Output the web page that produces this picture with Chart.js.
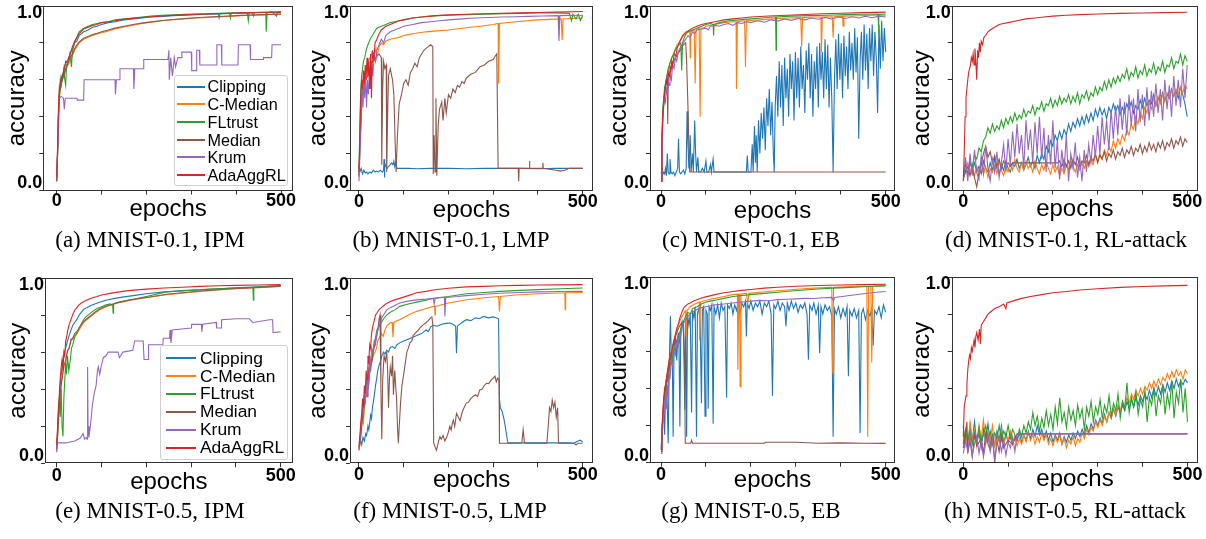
<!DOCTYPE html>
<html>
<head>
<meta charset="utf-8">
<script src="https://cdn.jsdelivr.net/npm/chart.js@4.4.0/dist/chart.umd.min.js"></script>
<style>
  body { margin: 0; background: #fff; }
  #page { position: relative; width: 1206px; height: 539px; overflow: hidden; background: #fff; }
  canvas { position: absolute; }
  .caption { position: absolute; font: 23px/23px 'Liberation Serif', 'Times New Roman', serif; color: #000; white-space: nowrap; transform: translateX(-50%); }
  .legend { position: absolute; box-sizing: border-box; border: 1px solid #cfcfcf; border-radius: 3px; background: rgba(255,255,255,0.85); font-family: 'Liberation Sans', Arial, sans-serif; color: #000; }
  .legend .txt { position: absolute; white-space: nowrap; }
  .legend .line { position: absolute; height: 1.5px; }
</style>
</head>
<body>
<div id="page"></div>
<script>
const names = ['Clipping', 'C-Median', 'FLtrust', 'Median', 'Krum', 'AdaAggRL'];
const colors = ['#1f77b4', '#ff7f0e', '#2ca02c', '#8c564b', '#9467bd', '#d62728'];
const xTicks = [0, 100, 200, 300, 400, 500];
const yTicks = [0, 0.2, 0.4, 0.6, 0.8, 1];

const epochsG = [0,2,4,6,8,10,13,16,20,25,30,35,40,45,50,60,70,80,90,100,115,130,150,170,190,210,235,260,285,310,335,360,385,410,435,460,480,500];
const epochs5 = [0,5,10,15,20,25,30,35,40,45, 50,55,60,65,70,75,80,85,90,95,
  100,105,110,115,120,125,130,135,140,145, 150,155,160,165,170,175,180,185,190,195,
  200,205,210,215,220,225,230,235,240,245, 250,255,260,265,270,275,280,285,290,295,
  300,305,310,315,320,325,330,335,340,345, 350,355,360,365,370,375,380,385,390,395,
  400,405,410,415,420,425,430,435,440,445, 450,455,460,465,470,475,480,485,490,495, 500];

// (a) MNIST-0.1, IPM
const aClipping = [0.06,0.22,0.42,0.53,0.6,0.57,0.63,0.64,0.7,0.69, 0.75,0.76,0.8,0.81,0.84,0.86,0.87,0.885,0.89,0.9,
  0.91,0.915,0.925,0.93,0.935,0.94,0.944,0.948,0.95,0.953, 0.955,0.957,0.96,0.962,0.963,0.965,0.966,0.967];
const aCMedian = [0.05,0.2,0.4,0.5,0.55,0.58,0.6,0.62,0.65,0.68, 0.7,0.73,0.76,0.78,0.8,0.82,0.83,0.84,0.848,0.855,
  0.865,0.875,0.886,0.896,0.905,0.912,0.92,0.926,0.93,0.935, 0.938,0.941,0.944,0.947,0.95,0.952,0.954,0.956];
const aFLtrust = [[0,0.05],[2,0.2],[4,0.42],[6,0.56],[8,0.55],[10,0.62],[13,0.6],[16,0.66],[18,0.6],[20,0.57],[22,0.68],[25,0.7],
  [30,0.73],[33,0.67],[35,0.76],[40,0.8],[45,0.83],[50,0.86],[60,0.88],[70,0.89],[80,0.9],[90,0.905],[100,0.91],[115,0.915],
  [130,0.925],[150,0.93],[170,0.935],[190,0.94],[210,0.945],[235,0.95],[260,0.952],[285,0.955],[310,0.957],[335,0.958],
  [360,0.96],[362,0.935],[364,0.96],[385,0.962],[387,0.935],[389,0.962],[410,0.963],[425,0.964],[427,0.92],[429,0.964],
  [435,0.965],[439,0.945],[441,0.965],[466,0.966],[467,0.86],[469,0.965],[480,0.967],[490,0.945],[492,0.966],[500,0.965]];
const aMedian = [0.05,0.22,0.42,0.52,0.56,0.57,0.61,0.63,0.66,0.69, 0.72,0.74,0.77,0.79,0.805,0.825,0.835,0.845,0.852,0.86,
  0.87,0.88,0.89,0.9,0.907,0.914,0.921,0.927,0.932,0.936, 0.94,0.943,0.946,0.949,0.951,0.953,0.955,0.957];
const aKrum = [[0,0.07],[2,0.2],[4,0.35],[6,0.5],[10,0.51],[15,0.5],[17,0.44],[19,0.5],[45,0.5],[46,0.49],[60,0.49],[61,0.6],
  [130,0.6],[131,0.52],[133,0.6],[140,0.6],[141,0.66],[171,0.66],[172,0.55],[174,0.66],[193,0.66],[194,0.71],[248,0.71],
  [250,0.76],[251,0.6],[254,0.72],[258,0.62],[262,0.72],[265,0.67],[270,0.72],[278,0.72],[279,0.75],[300,0.75],[301,0.65],
  [311,0.65],[312,0.76],[318,0.76],[319,0.68],[356,0.68],[357,0.79],[367,0.79],[368,0.68],[404,0.68],[405,0.79],[431,0.79],
  [432,0.71],[460,0.71],[461,0.72],[479,0.72],[480,0.79],[500,0.79]];
const aAdaAggRL = [0.07,0.25,0.45,0.55,0.58,0.6,0.62,0.66,0.69,0.71, 0.74,0.78,0.81,0.83,0.85,0.875,0.885,0.895,0.9,0.91,
  0.915,0.92,0.928,0.933,0.938,0.942,0.946,0.95,0.952,0.955, 0.957,0.959,0.961,0.963,0.965,0.966,0.967,0.968];

// (b) MNIST-0.1, LMP
const bClipping = [[0,0.14],[2,0.1],[5,0.12],[8,0.09],[11,0.11],[14,0.095],[17,0.1],[20,0.09],[24,0.1],[28,0.095],[32,0.11],
  [36,0.1],[40,0.105],[44,0.1],[48,0.11],[52,0.1],[55,0.11],[56,0.17],[57,0.07],[58,0.15],[60,0.13],[63,0.12],[66,0.13],
  [70,0.14],[73,0.15],[76,0.14],[78,0.16],[80,0.13],[82,0.15],[85,0.12],[88,0.12],[95,0.12],[110,0.12],[130,0.118],
  [160,0.12],[200,0.12],[240,0.118],[280,0.12],[320,0.12],[360,0.12],[400,0.118],[440,0.12],[480,0.12],[500,0.12]];
const bCMedian = [[0,0.07],[3,0.3],[6,0.5],[10,0.6],[15,0.66],[20,0.7],[25,0.72],[30,0.75],[35,0.74],[38,0.77],[40,0.72],
  [45,0.78],[50,0.8],[55,0.79],[60,0.81],[70,0.82],[80,0.825],[90,0.83],[100,0.84],[110,0.845],[120,0.85],[135,0.855],
  [150,0.86],[175,0.865],[200,0.87],[225,0.878],[250,0.885],[275,0.892],[300,0.9],[311,0.905],[312,0.58],[314,0.905],
  [350,0.915],[400,0.925],[452,0.93],[454,0.815],[456,0.93],[475,0.932],[500,0.935]];
const bFLtrust = [[0,0.1],[2,0.35],[4,0.55],[6,0.62],[8,0.66],[10,0.7],[13,0.72],[16,0.76],[20,0.79],[25,0.82],[30,0.84],
  [35,0.86],[40,0.88],[45,0.885],[50,0.89],[60,0.9],[70,0.91],[80,0.915],[90,0.92],[100,0.925],[120,0.935],[140,0.94],
  [160,0.945],[180,0.948],[200,0.95],[240,0.953],[280,0.956],[320,0.958],[360,0.96],[400,0.962],[440,0.963],[470,0.96],
  [475,0.92],[478,0.955],[485,0.93],[490,0.955],[495,0.92],[500,0.95]];
const bMedian = [[0,0.08],[3,0.3],[6,0.45],[10,0.55],[15,0.6],[20,0.62],[25,0.67],[30,0.7],[35,0.71],[40,0.73],[45,0.74],
  [50,0.72],[51,0.14],[53,0.55],[55,0.7],[58,0.66],[61,0.68],[62,0.1],[64,0.4],[66,0.62],[70,0.66],[75,0.6],[78,0.52],
  [81,0.25],[83,0.1],[86,0.3],[90,0.47],[95,0.52],[100,0.58],[105,0.6],[110,0.57],[115,0.64],[120,0.66],[125,0.69],
  [130,0.67],[135,0.72],[140,0.74],[145,0.76],[150,0.77],[155,0.78],[160,0.79],[165,0.78],[166,0.09],[168,0.3],[170,0.1],
  [172,0.5],[174,0.08],[177,0.35],[180,0.44],[185,0.48],[188,0.38],[192,0.5],[195,0.42],[200,0.52],[205,0.5],[210,0.55],
  [215,0.53],[220,0.57],[225,0.56],[230,0.59],[235,0.58],[240,0.61],[250,0.63],[260,0.64],[270,0.67],[280,0.68],
  [290,0.7],[300,0.71],[305,0.73],[308,0.74],[311,0.12],[330,0.12],[356,0.12],[357,0.05],[358,0.12],[380,0.12],
  [381,0.16],[382,0.12],[410,0.12],[411,0.15],[412,0.12],[440,0.11],[450,0.105],[460,0.11],[470,0.12],[500,0.12]];
const bKrum = [[0,0.05],[3,0.25],[5,0.4],[7,0.55],[9,0.45],[11,0.6],[13,0.5],[15,0.62],[17,0.45],[19,0.6],[21,0.52],
  [24,0.66],[26,0.55],[28,0.7],[31,0.62],[34,0.74],[37,0.7],[40,0.76],[45,0.79],[50,0.82],[55,0.8],[60,0.84],[70,0.86],
  [80,0.87],[90,0.88],[100,0.89],[120,0.9],[140,0.91],[160,0.915],[180,0.92],[200,0.925],[230,0.93],[260,0.935],
  [290,0.938],[320,0.94],[350,0.942],[380,0.944],[410,0.946],[445,0.948],[447,0.81],[449,0.948],[470,0.949],[500,0.95]];
const bAdaAggRL = [[0,0.1],[2,0.3],[4,0.5],[6,0.6],[8,0.55],[10,0.65],[12,0.58],[14,0.68],[16,0.6],[18,0.72],[20,0.62],
  [22,0.7],[24,0.55],[26,0.74],[28,0.5],[30,0.76],[33,0.7],[36,0.8],[40,0.82],[45,0.85],[50,0.87],[60,0.89],[70,0.9],
  [80,0.91],[90,0.92],[100,0.925],[120,0.935],[140,0.94],[160,0.945],[180,0.95],[200,0.952],[240,0.955],[280,0.958],
  [320,0.96],[360,0.963],[400,0.965],[440,0.967],[500,0.97]];

// (c) MNIST-0.1, EB
const cClipping = [[0,0.1],[3,0.08],[6,0.1],[8,0.09],[10,0.12],[12,0.08],[14,0.2],[16,0.1],[18,0.09],[20,0.17],[22,0.1],
  [25,0.09],[28,0.1],[31,0.08],[34,0.1],[37,0.12],[39,0.28],[41,0.1],[44,0.09],[47,0.1],[50,0.11],[53,0.09],[56,0.12],
  [58,0.43],[60,0.25],[62,0.12],[65,0.3],[67,0.1],[70,0.2],[72,0.1],[75,0.38],[77,0.2],[79,0.1],[82,0.18],[84,0.1],
  [88,0.1],[92,0.12],[96,0.1],[100,0.16],[102,0.1],[106,0.1],[110,0.14],[112,0.1],[116,0.17],[118,0.1],[125,0.1],
  [140,0.1],[160,0.1],[180,0.1],[190,0.1],[192,0.19],[194,0.1],[200,0.1],[203,0.25],[205,0.1],[208,0.35],[210,0.15],
  [212,0.3],[214,0.1],[217,0.38],[220,0.2],[223,0.42],[226,0.28],[229,0.45],[232,0.22],[235,0.5],[238,0.35],[241,0.55],
  [244,0.3],[247,0.48],[250,0.2],[252,0.1],[254,0.45],[257,0.62],[260,0.4],[263,0.7],[266,0.45],[269,0.68],[272,0.35],
  [275,0.72],[278,0.5],[281,0.66],[284,0.4],[287,0.74],[290,0.55],[293,0.7],[296,0.38],[299,0.75],[302,0.5],[305,0.72],
  [308,0.45],[311,0.78],[314,0.55],[317,0.68],[320,0.42],[323,0.76],[326,0.6],[329,0.8],[332,0.5],[335,0.74],[338,0.4],
  [341,0.7],[344,0.55],[347,0.78],[350,0.45],[353,0.8],[356,0.6],[359,0.75],[362,0.5],[365,0.82],[368,0.55],[371,0.79],
  [374,0.45],[377,0.72],[380,0.5],[383,0.1],[386,0.6],[389,0.82],[392,0.55],[395,0.85],[398,0.6],[401,0.8],[404,0.5],
  [407,0.84],[410,0.62],[413,0.78],[416,0.55],[419,0.86],[422,0.65],[425,0.8],[428,0.6],[431,0.88],[434,0.64],[437,0.83],
  [440,0.28],[443,0.7],[446,0.86],[449,0.6],[452,0.9],[455,0.65],[458,0.85],[461,0.55],[464,0.88],[467,0.7],[470,0.9],
  [473,0.62],[476,0.86],[479,0.72],[482,0.42],[485,0.9],[488,0.66],[491,0.92],[494,0.7],[497,0.88],[500,0.75]];
const cCMedian = [[0,0.05],[2,0.28],[4,0.42],[6,0.48],[8,0.54],[10,0.57],[13,0.62],[16,0.65],[20,0.69],[24,0.72],[28,0.74],
  [32,0.77],[36,0.79],[40,0.8],[45,0.82],[50,0.84],[55,0.85],[60,0.86],[64,0.86],[65,0.72],[66,0.86],[74,0.87],[76,0.58],
  [78,0.87],[85,0.88],[87,0.4],[89,0.88],[95,0.88],[100,0.89],[120,0.9],[140,0.91],[160,0.915],[167,0.915],[168,0.55],
  [170,0.915],[186,0.92],[188,0.67],[190,0.92],[220,0.925],[250,0.93],[280,0.935],[311,0.937],[313,0.78],[315,0.937],
  [340,0.94],[356,0.94],[357,0.75],[359,0.94],[381,0.942],[383,0.83],[385,0.942],[404,0.945],[405,0.89],[407,0.945],
  [440,0.947],[470,0.95],[500,0.95]];
const cFLtrust = [[0,0.06],[2,0.3],[4,0.45],[6,0.5],[8,0.56],[10,0.58],[13,0.62],[16,0.66],[20,0.69],[24,0.72],[28,0.74],
  [32,0.76],[36,0.78],[40,0.79],[44,0.8],[46,0.65],[48,0.8],[52,0.83],[56,0.85],[60,0.86],[70,0.87],[80,0.88],[90,0.89],
  [100,0.9],[110,0.905],[116,0.9],[117,0.84],[118,0.9],[130,0.91],[150,0.92],[175,0.925],[200,0.93],[225,0.935],
  [250,0.94],[255,0.94],[256,0.76],[257,0.94],[290,0.945],[330,0.948],[370,0.95],[410,0.953],[450,0.955],[483,0.956],
  [484,0.85],[485,0.955],[500,0.957]];
const cMedian = [[0,0.05],[2,0.25],[4,0.4],[6,0.48],[8,0.53],[10,0.56],[12,0.6],[14,0.57],[15,0.36],[16,0.6],[20,0.64],
  [25,0.68],[30,0.71],[35,0.73],[40,0.75],[45,0.77],[50,0.79],[55,0.8],[57,0.7],[60,0.45],[63,0.15],[64,0.1],[500,0.1]];
const cKrum = [[0,0.05],[2,0.25],[4,0.38],[6,0.45],[8,0.5],[10,0.48],[12,0.56],[14,0.52],[16,0.6],[18,0.57],[20,0.63],
  [23,0.6],[26,0.68],[29,0.66],[32,0.72],[35,0.7],[38,0.75],[42,0.77],[46,0.79],[50,0.8],[55,0.82],[60,0.84],[65,0.83],
  [70,0.86],[75,0.85],[80,0.87],[90,0.875],[100,0.88],[105,0.87],[110,0.89],[120,0.895],[130,0.89],[140,0.9],[150,0.905],
  [160,0.895],[170,0.91],[180,0.905],[190,0.915],[200,0.91],[215,0.92],[230,0.912],[245,0.925],[260,0.918],[275,0.93],
  [290,0.922],[305,0.932],[320,0.925],[335,0.935],[350,0.928],[365,0.938],[380,0.93],[395,0.94],[410,0.932],[425,0.942],
  [440,0.935],[455,0.944],[470,0.936],[485,0.945],[500,0.94]];
const cAdaAggRL = [[0,0.05],[2,0.25],[4,0.4],[6,0.47],[8,0.52],[10,0.56],[12,0.6],[14,0.58],[16,0.64],[18,0.62],[20,0.67],
  [22,0.65],[24,0.7],[26,0.68],[28,0.72],[30,0.74],[33,0.73],[36,0.77],[40,0.8],[44,0.82],[48,0.84],[52,0.85],[56,0.86],
  [60,0.865],[70,0.88],[80,0.89],[90,0.9],[100,0.905],[120,0.915],[140,0.925],[160,0.93],[180,0.935],[200,0.94],
  [240,0.946],[280,0.95],[320,0.954],[360,0.958],[400,0.961],[450,0.964],[500,0.967]];

// (d) MNIST-0.1, RL-attack
const dClipping = [.1,.14,.09,.16,.11,.15,.1,.13,.09,.16, .12,.1,.15,.11,.17,.12,.09,.14,.11,.16,
  .12,.1,.15,.13,.17,.12,.15,.11,.14,.18, .13,.16,.12,.19,.15,.2,.17,.24,.21,.27,
  .24,.3,.27,.32,.28,.33,.3,.36,.32,.37, .34,.39,.35,.4,.36,.41,.37,.42,.38,.44,
  .4,.45,.41,.44,.39,.45,.42,.47,.43,.46, .41,.45,.42,.47,.44,.48,.42,.46,.44,.49,
  .45,.5,.46,.49,.47,.52,.46,.5,.48,.53, .49,.52,.5,.55,.51,.54,.5,.56,.52,.47, .4];
const dCMedian = [.08,.12,.15,.1,.14,.08,.13,.1,.15,.09, .13,.07,.12,.1,.14,.09,.16,.11,.08,.13,
  .1,.15,.11,.17,.12,.1,.15,.11,.16,.12, .14,.1,.16,.12,.09,.14,.11,.16,.12,.09,
  .14,.1,.13,.08,.12,.09,.14,.11,.16,.13, .1,.14,.11,.15,.12,.16,.13,.17,.14,.19,
  .16,.2,.17,.22,.19,.24,.21,.27,.23,.28, .25,.3,.27,.33,.3,.36,.33,.4,.36,.42,
  .39,.45,.42,.48,.44,.5,.46,.51,.47,.52, .48,.53,.5,.54,.51,.55,.52,.56,.53,.57, .55];
const dFLtrust = [.08,.11,.09,.14,.13,.19,.17,.23,.21,.27, .29,.34,.31,.36,.32,.35,.33,.38,.34,.39,
  .36,.4,.37,.42,.38,.41,.39,.44,.4,.43, .42,.46,.41,.45,.44,.48,.43,.47,.46,.5,
  .45,.49,.46,.51,.47,.5,.48,.52,.47,.51, .48,.53,.47,.52,.5,.54,.49,.53,.51,.56,
  .52,.56,.54,.59,.55,.6,.56,.61,.58,.62, .59,.63,.61,.66,.6,.64,.62,.67,.61,.65,
  .63,.68,.62,.66,.64,.69,.63,.67,.65,.7, .64,.68,.67,.72,.66,.7,.69,.74,.68,.73, .7];
const dMedian = [.06,.1,.13,.08,.12,.07,.02,.1,.14,.2, .24,.18,.21,.15,.19,.13,.17,.12,.16,.14,
  .15,.13,.15,.15,.15,.15,.15,.15,.15,.15, .15,.15,.15,.15,.15,.15,.15,.15,.15,.15,
  .15,.15,.15,.16,.13,.17,.13,.16,.12,.17, .14,.18,.13,.16,.15,.19,.14,.18,.16,.2,
  .15,.19,.17,.21,.16,.2,.18,.22,.17,.21, .19,.23,.18,.22,.2,.24,.19,.23,.21,.25,
  .2,.24,.21,.26,.22,.25,.21,.26,.23,.27, .22,.26,.24,.28,.23,.27,.25,.29,.24,.28, .26];
const dKrum = [.06,.18,.05,.2,.08,.22,.1,.06,.19,.09, .24,.12,.05,.17,.1,.21,.07,.15,.25,.1,
  .28,.14,.32,.18,.36,.2,.3,.12,.38,.22, .33,.15,.37,.2,.4,.17,.34,.1,.3,.14,
  .38,.12,.27,.06,.22,.1,.3,.05,.2,.12, .26,.07,.18,.05,.22,.1,.25,.15,.3,.18,
  .35,.2,.4,.25,.38,.22,.44,.28,.46,.3, .5,.33,.48,.3,.52,.35,.5,.32,.55,.37,
  .52,.35,.56,.38,.54,.4,.58,.42,.55,.38, .6,.44,.57,.4,.62,.46,.6,.45,.66,.5, .68];
const dAdaAggRL = [[0,0.05],[2,0.2],[4,0.4],[6,0.5],[8,0.55],[10,0.6],[12,0.64],[14,0.66],[16,0.68],[18,0.72],[20,0.7],
  [22,0.74],[24,0.68],[26,0.77],[28,0.7],[30,0.6],[32,0.76],[34,0.72],[36,0.8],[38,0.75],[40,0.81],[43,0.79],[46,0.83],
  [50,0.84],[55,0.86],[60,0.87],[70,0.885],[80,0.9],[90,0.905],[100,0.91],[120,0.92],[140,0.93],[160,0.935],[180,0.94],
  [200,0.945],[230,0.95],[260,0.953],[300,0.957],[350,0.96],[400,0.962],[450,0.964],[500,0.966]];

// (e) MNIST-0.5, IPM
const eClipping = [[0,0.08],[2,0.15],[4,0.25],[6,0.35],[8,0.42],[10,0.48],[13,0.54],[16,0.58],[20,0.62],[24,0.66],[28,0.69],
  [32,0.72],[36,0.745],[40,0.76],[45,0.775],[50,0.8],[55,0.815],[60,0.83],[67,0.84],[75,0.85],[85,0.86],[97,0.87],
  [110,0.88],[130,0.89],[150,0.898],[171,0.905],[200,0.915],[240,0.925],[280,0.93],[320,0.937],[360,0.942],[400,0.947],
  [450,0.952],[500,0.958]];
const eCMedian = [[0,0.07],[2,0.14],[4,0.22],[6,0.3],[8,0.36],[10,0.42],[13,0.48],[16,0.52],[20,0.56],[24,0.6],[28,0.63],
  [32,0.66],[36,0.68],[40,0.69],[45,0.7],[50,0.72],[55,0.74],[60,0.76],[67,0.775],[75,0.79],[85,0.81],[97,0.83],
  [110,0.845],[134,0.864],[150,0.872],[171,0.883],[200,0.893],[245,0.91],[280,0.918],[320,0.928],[360,0.935],[400,0.942],
  [450,0.948],[500,0.955]];
const eFLtrust = [[0,0.08],[2,0.18],[4,0.3],[6,0.35],[8,0.25],[10,0.4],[12,0.2],[14,0.145],[16,0.35],[18,0.45],[20,0.54],
  [22,0.48],[24,0.58],[27,0.5],[30,0.55],[33,0.62],[36,0.64],[40,0.68],[45,0.7],[50,0.73],[55,0.75],[60,0.775],[65,0.79],
  [70,0.8],[80,0.82],[90,0.835],[100,0.845],[110,0.855],[120,0.86],[125,0.85],[126,0.81],[127,0.86],[140,0.87],
  [160,0.88],[171,0.885],[200,0.9],[245,0.925],[280,0.932],[320,0.937],[360,0.942],[400,0.946],[438,0.95],[439,0.88],
  [440,0.95],[460,0.953],[480,0.956],[500,0.958]];
const eMedian = [[0,0.07],[2,0.16],[4,0.25],[6,0.32],[8,0.38],[10,0.43],[13,0.47],[16,0.53],[20,0.55],[24,0.61],[28,0.62],
  [32,0.67],[36,0.67],[40,0.7],[45,0.71],[50,0.73],[55,0.75],[60,0.765],[67,0.78],[75,0.795],[85,0.815],[97,0.835],
  [110,0.848],[134,0.866],[150,0.875],[171,0.885],[200,0.895],[245,0.912],[280,0.92],[320,0.93],[360,0.937],[400,0.943],
  [450,0.949],[500,0.956]];
const eKrum = [[0,0.06],[1,0.11],[20,0.11],[40,0.12],[52,0.135],[59,0.16],[62,0.13],[66,0.14],[68,0.13],[69,0.52],[70,0.2],
  [72,0.14],[76,0.22],[80,0.32],[84,0.38],[88,0.42],[91,0.5],[93,0.52],[96,0.48],[100,0.53],[104,0.57],[110,0.58],
  [115,0.6],[137,0.6],[140,0.57],[148,0.6],[170,0.61],[174,0.66],[193,0.66],[195,0.56],[204,0.56],[205,0.64],[237,0.64],
  [238,0.675],[252,0.675],[253,0.72],[255,0.65],[258,0.72],[300,0.73],[301,0.75],[323,0.75],[324,0.71],[326,0.75],
  [356,0.76],[357,0.73],[367,0.73],[368,0.775],[401,0.78],[430,0.78],[438,0.76],[475,0.775],[482,0.775],[483,0.705],
  [500,0.71]];
const eAdaAggRL = [[0,0.1],[2,0.2],[4,0.3],[6,0.38],[8,0.46],[10,0.52],[12,0.56],[14,0.5],[16,0.6],[18,0.58],[20,0.66],
  [22,0.68],[25,0.72],[28,0.75],[31,0.77],[34,0.79],[37,0.81],[40,0.825],[45,0.84],[50,0.855],[55,0.865],[60,0.872],
  [70,0.884],[80,0.893],[90,0.9],[100,0.908],[120,0.917],[140,0.925],[160,0.932],[180,0.936],[200,0.94],[240,0.946],
  [280,0.95],[320,0.955],[360,0.958],[400,0.96],[450,0.962],[500,0.964]];

// (f) MNIST-0.5, LMP
const fClipping = [[0,0.11],[3,0.13],[6,0.1],[9,0.14],[12,0.12],[15,0.16],[17,0.15],[20,0.2],[22,0.18],[24,0.22],[26,0.26],
  [28,0.24],[30,0.3],[32,0.33],[35,0.38],[37,0.42],[39,0.45],[42,0.5],[45,0.53],[48,0.55],[51,0.58],[55,0.6],[58,0.59],
  [62,0.61],[66,0.6],[70,0.625],[75,0.63],[80,0.62],[85,0.64],[91,0.65],[100,0.66],[110,0.67],[120,0.68],[129,0.69],
  [140,0.7],[150,0.72],[155,0.71],[160,0.735],[166,0.745],[175,0.74],[185,0.75],[195,0.755],[203,0.757],[210,0.75],
  [216,0.74],[218,0.594],[220,0.74],[230,0.76],[240,0.775],[250,0.77],[260,0.785],[270,0.78],[278,0.793],[290,0.785],
  [300,0.79],[308,0.784],[312,0.78],[314,0.35],[316,0.3],[320,0.28],[324,0.24],[327,0.2],[330,0.15],[333,0.11],
  [380,0.11],[430,0.11],[470,0.11],[480,0.108],[490,0.12],[495,0.125],[500,0.115]];
const fCMedian = [[0,0.07],[2,0.1],[4,0.15],[6,0.2],[8,0.25],[10,0.22],[12,0.3],[14,0.34],[16,0.38],[18,0.36],[20,0.44],
  [24,0.5],[28,0.54],[32,0.58],[36,0.6],[39,0.62],[42,0.66],[46,0.68],[50,0.7],[54,0.685],[58,0.72],[62,0.74],[69,0.757],
  [74,0.76],[76,0.68],[78,0.76],[85,0.77],[91,0.775],[110,0.8],[129,0.82],[150,0.835],[166,0.847],[169,0.847],[170,0.8],
  [171,0.847],[200,0.865],[240,0.883],[280,0.893],[312,0.9],[314,0.82],[316,0.9],[350,0.908],[400,0.915],[460,0.92],
  [461,0.829],[462,0.92],[500,0.922]];
const fFLtrust = [[0,0.08],[2,0.13],[4,0.18],[6,0.22],[8,0.28],[10,0.26],[12,0.35],[14,0.33],[16,0.42],[18,0.4],[20,0.47],
  [22,0.45],[24,0.52],[26,0.5],[28,0.56],[31,0.6],[34,0.64],[37,0.68],[40,0.72],[45,0.74],[50,0.76],[55,0.78],[62,0.8],
  [70,0.815],[80,0.828],[91,0.847],[110,0.86],[129,0.87],[150,0.88],[166,0.891],[200,0.9],[240,0.915],[280,0.922],
  [315,0.928],[360,0.933],[400,0.937],[450,0.942],[500,0.946]];
const fMedian = [[0,0.08],[3,0.12],[6,0.2],[9,0.28],[12,0.32],[15,0.4],[18,0.45],[21,0.42],[24,0.52],[28,0.54],[32,0.6],
  [36,0.65],[39,0.68],[42,0.72],[45,0.78],[47,0.8],[49,0.4],[51,0.13],[53,0.45],[56,0.58],[59,0.55],[62,0.6],[64,0.5],
  [66,0.3],[68,0.45],[70,0.52],[73,0.47],[75,0.58],[77,0.37],[80,0.5],[82,0.42],[84,0.35],[86,0.2],[88,0.108],[90,0.2],
  [93,0.33],[96,0.42],[100,0.48],[104,0.55],[107,0.6],[110,0.62],[114,0.65],[118,0.66],[121,0.69],[125,0.7],[129,0.71],
  [133,0.72],[136,0.73],[140,0.74],[145,0.75],[150,0.76],[155,0.77],[160,0.785],[163,0.79],[165,0.75],[167,0.108],
  [170,0.09],[173,0.07],[176,0.1],[178,0.12],[181,0.144],[184,0.13],[188,0.15],[192,0.12],[196,0.14],[200,0.17],
  [203,0.2],[206,0.18],[209,0.22],[211,0.234],[214,0.2],[218,0.27],[222,0.25],[226,0.23],[230,0.27],[233,0.29],
  [237,0.31],[240,0.325],[245,0.33],[250,0.35],[255,0.36],[260,0.37],[265,0.36],[270,0.396],[275,0.4],[280,0.42],
  [285,0.432],[290,0.43],[296,0.45],[300,0.46],[304,0.47],[307,0.44],[310,0.46],[313,0.45],[314,0.108],[360,0.108],
  [364,0.11],[367,0.18],[370,0.11],[375,0.108],[420,0.108],[423,0.2],[426,0.3],[429,0.28],[432,0.34],[435,0.3],
  [438,0.33],[441,0.25],[444,0.3],[446,0.108],[480,0.108],[485,0.1],[490,0.108],[500,0.108]];
const fKrum = [[0,0.07],[2,0.12],[4,0.18],[6,0.25],[8,0.3],[10,0.27],[12,0.38],[14,0.33],[16,0.45],[18,0.36],[20,0.52],
  [22,0.42],[24,0.58],[26,0.5],[28,0.62],[31,0.6],[34,0.66],[37,0.64],[40,0.7],[45,0.74],[50,0.78],[55,0.8],[62,0.828],
  [70,0.84],[80,0.852],[91,0.865],[110,0.875],[129,0.882],[150,0.886],[166,0.89],[168,0.86],[170,0.89],[185,0.895],
  [191,0.895],[192,0.793],[194,0.895],[220,0.9],[240,0.905],[280,0.912],[315,0.918],[360,0.922],[400,0.925],[450,0.927],
  [500,0.928]];
const fAdaAggRL = [[0,0.09],[2,0.15],[4,0.22],[6,0.27],[8,0.35],[10,0.3],[12,0.42],[14,0.38],[16,0.5],[18,0.45],[20,0.58],
  [22,0.55],[24,0.64],[26,0.62],[28,0.7],[31,0.74],[34,0.77],[37,0.8],[40,0.81],[45,0.83],[50,0.84],[55,0.85],[60,0.86],
  [70,0.873],[80,0.882],[91,0.89],[110,0.905],[129,0.92],[150,0.928],[166,0.935],[200,0.945],[240,0.952],[280,0.955],
  [315,0.958],[360,0.96],[400,0.962],[450,0.963],[500,0.964]];

// (g) MNIST-0.5, EB
const gClipping = [[0,0.07],[3,0.2],[6,0.3],[8,0.15],[10,0.35],[12,0.45],[14,0.3],[16,0.105],[18,0.5],[21,0.79],[23,0.55],
  [25,0.6],[27,0.14],[29,0.62],[32,0.68],[35,0.55],[38,0.7],[40,0.65],[42,0.195],[44,0.72],[47,0.76],[50,0.7],[53,0.285],
  [55,0.78],[57,0.14],[59,0.8],[62,0.74],[65,0.8],[68,0.27],[70,0.82],[73,0.78],[76,0.84],[79,0.14],[81,0.8],[84,0.83],
  [87,0.76],[90,0.32],[92,0.82],[95,0.84],[98,0.25],[100,0.82],[103,0.8],[105,0.29],[107,0.84],[110,0.82],[113,0.85],
  [116,0.21],[118,0.84],[122,0.8],[126,0.85],[130,0.78],[134,0.86],[138,0.82],[142,0.84],[146,0.35],[148,0.85],
  [152,0.83],[156,0.86],[160,0.8],[164,0.85],[168,0.82],[172,0.87],[176,0.8],[180,0.86],[184,0.84],[188,0.87],
  [190,0.68],[192,0.86],[196,0.83],[200,0.87],[205,0.82],[210,0.86],[215,0.84],[220,0.87],[225,0.8],[230,0.86],
  [235,0.84],[240,0.87],[245,0.8],[248,0.36],[251,0.85],[255,0.83],[260,0.87],[265,0.82],[270,0.86],[275,0.84],
  [278,0.735],[281,0.86],[285,0.82],[290,0.87],[295,0.83],[300,0.86],[305,0.81],[310,0.85],[315,0.83],[320,0.86],
  [325,0.8],[328,0.555],[331,0.85],[336,0.82],[340,0.86],[345,0.8],[350,0.85],[353,0.59],[356,0.84],[360,0.8],
  [365,0.85],[370,0.82],[375,0.84],[380,0.79],[383,0.14],[386,0.83],[390,0.8],[395,0.84],[400,0.78],[405,0.83],
  [410,0.79],[414,0.84],[417,0.465],[420,0.82],[425,0.79],[430,0.83],[435,0.78],[440,0.82],[443,0.16],[446,0.8],
  [450,0.83],[455,0.77],[460,0.82],[465,0.79],[469,0.83],[472,0.63],[475,0.82],[480,0.8],[485,0.84],[490,0.78],
  [495,0.85],[500,0.81]];
const gCMedian = [[0,0.06],[2,0.16],[4,0.26],[6,0.33],[8,0.38],[10,0.42],[13,0.47],[16,0.52],[20,0.57],[24,0.61],[28,0.65],
  [32,0.69],[36,0.72],[40,0.75],[45,0.78],[50,0.8],[55,0.82],[56,0.68],[58,0.82],[65,0.84],[75,0.855],[85,0.865],
  [86,0.66],[88,0.865],[100,0.875],[120,0.885],[140,0.895],[160,0.905],[170,0.908],[171,0.5],[173,0.908],[175,0.908],
  [176,0.41],[178,0.908],[190,0.912],[193,0.86],[196,0.912],[220,0.918],[250,0.925],[280,0.93],[310,0.935],[340,0.94],
  [380,0.944],[382,0.48],[384,0.944],[420,0.948],[458,0.95],[460,0.14],[462,0.95],[467,0.95],[469,0.54],[471,0.95],
  [480,0.952],[500,0.955]];
const gFLtrust = [[0,0.06],[2,0.15],[4,0.25],[6,0.3],[8,0.36],[10,0.4],[12,0.38],[14,0.46],[16,0.44],[18,0.52],[20,0.5],
  [23,0.57],[26,0.55],[29,0.62],[32,0.6],[35,0.66],[38,0.68],[41,0.65],[44,0.72],[47,0.74],[50,0.76],[55,0.79],[60,0.81],
  [65,0.8],[70,0.83],[80,0.84],[90,0.855],[100,0.865],[110,0.87],[120,0.875],[140,0.885],[160,0.895],[180,0.9],
  [200,0.905],[230,0.912],[260,0.918],[290,0.925],[320,0.93],[350,0.935],[380,0.94],[410,0.943],[440,0.946],
  [470,0.95],[500,0.952]];
const gMedian = [[0,0.06],[2,0.15],[4,0.25],[6,0.32],[8,0.37],[10,0.4],[14,0.46],[18,0.52],[22,0.57],[26,0.62],[30,0.66],
  [35,0.7],[40,0.73],[45,0.75],[50,0.76],[52,0.6],[54,0.105],[66,0.105],[68,0.12],[70,0.105],[230,0.105],[232,0.11],
  [300,0.11],[350,0.105],[400,0.107],[450,0.105],[500,0.104]];
const gKrum = [[0,0.05],[2,0.12],[4,0.2],[6,0.25],[8,0.3],[10,0.38],[12,0.29],[14,0.42],[16,0.35],[18,0.48],[20,0.45],
  [23,0.55],[26,0.52],[29,0.6],[32,0.58],[35,0.65],[38,0.63],[41,0.7],[44,0.68],[47,0.74],[50,0.75],[55,0.77],[60,0.79],
  [65,0.8],[70,0.81],[80,0.825],[90,0.835],[100,0.84],[110,0.845],[120,0.85],[140,0.855],[160,0.86],[180,0.865],
  [200,0.87],[220,0.874],[240,0.872],[260,0.878],[280,0.88],[300,0.882],[320,0.885],[340,0.884],[360,0.888],[380,0.89],
  [384,0.87],[386,0.89],[420,0.9],[450,0.91],[480,0.918],[500,0.922]];
const gAdaAggRL = [[0,0.07],[2,0.18],[4,0.28],[6,0.35],[8,0.4],[10,0.42],[12,0.45],[15,0.5],[18,0.55],[21,0.58],[24,0.6],
  [27,0.64],[30,0.67],[33,0.7],[36,0.73],[39,0.75],[42,0.78],[45,0.8],[48,0.82],[51,0.835],[55,0.845],[60,0.855],
  [65,0.86],[70,0.868],[80,0.878],[90,0.887],[100,0.893],[120,0.905],[140,0.915],[160,0.922],[180,0.928],[200,0.933],
  [230,0.94],[260,0.945],[300,0.95],[350,0.954],[400,0.957],[450,0.959],[500,0.961]];

// (h) MNIST-0.5, RL-attack
const hClipping = [.08,.15,.1,.2,.12,.22,.1,.16,.08,.18, .12,.21,.1,.15,.09,.17,.12,.2,.1,.16,
  .11,.15,.1,.14,.12,.16,.11,.15,.12,.17, .13,.18,.14,.2,.15,.18,.13,.17,.12,.16,
  .11,.15,.12,.16,.1,.14,.11,.15,.12,.16, .13,.17,.14,.18,.15,.2,.16,.21,.18,.23,
  .2,.24,.21,.26,.22,.27,.24,.29,.25,.3, .27,.31,.28,.33,.29,.34,.3,.35,.31,.36,
  .33,.37,.34,.39,.35,.4,.36,.41,.37,.42, .38,.43,.39,.44,.4,.45,.41,.44,.42,.45, .43];
const hCMedian = [.1,.17,.08,.22,.12,.18,.09,.2,.13,.23, .1,.17,.12,.2,.09,.15,.11,.18,.1,.14,
  .12,.17,.1,.14,.09,.13,.1,.15,.11,.16, .12,.15,.1,.14,.11,.16,.12,.15,.1,.13,
  .09,.14,.11,.15,.1,.13,.08,.12,.1,.14, .09,.13,.11,.16,.13,.18,.15,.19,.17,.22,
  .19,.23,.2,.25,.22,.27,.24,.29,.26,.31, .28,.33,.3,.35,.32,.37,.34,.39,.36,.4,
  .37,.41,.39,.43,.4,.44,.41,.45,.42,.46, .44,.48,.45,.49,.46,.5,.47,.49,.45,.5, .48];
const hFLtrust = [.1,.18,.12,.17,.1,.16,.12,.19,.11,.15, .2,.12,.17,.1,.16,.13,.2,.12,.17,.14,
  .2,.13,.18,.15,.12,.18,.14,.2,.16,.22, .18,.27,.2,.25,.17,.24,.19,.28,.2,.26,
  .18,.3,.21,.35,.22,.27,.19,.3,.23,.28, .2,.31,.24,.29,.18,.3,.25,.33,.22,.3,
  .26,.34,.24,.31,.27,.36,.25,.32,.28,.37, .24,.33,.29,.43,.27,.35,.3,.38,.26,.34,
  .3,.39,.22,.35,.31,.4,.25,.36,.32,.42, .26,.37,.3,.44,.24,.38,.32,.45,.27,.4, .22];
const hMedian = [[0,0.2],[3,0.08],[5,0.15],[8,0.22],[10,0.05],[15,0.12],[20,0.03],[25,0.15],[30,0.09],[40,0.13],[45,0.05],
  [50,0.16],[55,0.1],[60,0.07],[65,0.14],[70,0.0],[75,0.12],[80,0.06],[85,0.15],[90,0.08],[100,0.12],[110,0.1],
  [120,0.155],[500,0.155]];
const hKrum = [[0,0.05],[5,0.12],[10,0.06],[15,0.15],[20,0.04],[25,0.1],[30,0.14],[35,0.05],[40,0.12],[45,0.03],[50,0.11],
  [55,0.15],[60,0.06],[65,0.13],[70,0.02],[75,0.1],[80,0.14],[85,0.06],[90,0.12],[95,0.04],[100,0.11],[105,0.08],
  [110,0.14],[115,0.06],[120,0.155],[500,0.155]];
const hAdaAggRL = [[0,0.14],[2,0.3],[4,0.33],[6,0.36],[8,0.42],[10,0.5],[12,0.55],[14,0.58],[16,0.56],[18,0.62],[20,0.6],
  [22,0.63],[24,0.66],[26,0.62],[28,0.68],[30,0.7],[33,0.66],[36,0.72],[38,0.64],[40,0.74],[45,0.76],[50,0.78],[55,0.8],
  [60,0.81],[70,0.83],[80,0.84],[90,0.855],[95,0.83],[97,0.86],[110,0.87],[130,0.885],[150,0.895],[175,0.905],
  [200,0.915],[230,0.922],[260,0.93],[300,0.937],[350,0.944],[400,0.949],[450,0.952],[500,0.955]];

const panels = [
  { id: 'a', caption: '(a) MNIST-0.1, IPM', grid: epochsG, series: [aClipping, aCMedian, aFLtrust, aMedian, aKrum, aAdaAggRL] },
  { id: 'b', caption: '(b) MNIST-0.1, LMP', grid: null, series: [bClipping, bCMedian, bFLtrust, bMedian, bKrum, bAdaAggRL] },
  { id: 'c', caption: '(c) MNIST-0.1, EB', grid: null, series: [cClipping, cCMedian, cFLtrust, cMedian, cKrum, cAdaAggRL] },
  { id: 'd', caption: '(d) MNIST-0.1, RL-attack', grid: epochs5, series: [dClipping, dCMedian, dFLtrust, dMedian, dKrum, dAdaAggRL] },
  { id: 'e', caption: '(e) MNIST-0.5, IPM', grid: null, series: [eClipping, eCMedian, eFLtrust, eMedian, eKrum, eAdaAggRL] },
  { id: 'f', caption: '(f) MNIST-0.5, LMP', grid: null, series: [fClipping, fCMedian, fFLtrust, fMedian, fKrum, fAdaAggRL] },
  { id: 'g', caption: '(g) MNIST-0.5, EB', grid: null, series: [gClipping, gCMedian, gFLtrust, gMedian, gKrum, gAdaAggRL] },
  { id: 'h', caption: '(h) MNIST-0.5, RL-attack', grid: epochs5, series: [hClipping, hCMedian, hFLtrust, hMedian, hKrum, hAdaAggRL] }
];

// page geometry: canvas [left, top, w, h], plot box [left, top, right, bottom]
const layouts = {
  a: { canvas: [0, 0, 300, 232], box: [43.3, 6, 293, 190.5], xMin: -29.9, xMax: 526.7, yTitleMid: 17, xTitleMid: 209.5, xLabelMid: 201, capX: 150, capTop: 227.7 },
  b: { canvas: [300, 0, 300, 232], box: [350, 6, 593, 190.5], xMin: -20, xMax: 523, yTitleMid: 318, xTitleMid: 210.5, xLabelMid: 202.5, capX: 451, capTop: 227.7 },
  c: { canvas: [600, 0, 300, 232], box: [650, 6, 895, 190.5], xMin: -24.5, xMax: 520.7, yTitleMid: 619.5, xTitleMid: 211, xLabelMid: 202.5, capX: 751, capTop: 227.7 },
  d: { canvas: [900, 0, 306, 232], box: [951.7, 6, 1198, 190.5], xMin: -25.9, xMax: 524.1, yTitleMid: 922.5, xTitleMid: 209, xLabelMid: 202, capX: 1066, capTop: 227.7 },
  e: { canvas: [0, 270, 300, 232], box: [45, 278, 292.7, 463.3], xMin: -26.1, xMax: 526.8, yTitleMid: 18, xTitleMid: 482, xLabelMid: 475.6, capX: 150, capTop: 498.7 },
  f: { canvas: [300, 270, 300, 232], box: [350, 278, 593.3, 463.3], xMin: -20.1, xMax: 523.8, yTitleMid: 318.5, xTitleMid: 480.5, xLabelMid: 475, capX: 450, capTop: 498.7 },
  g: { canvas: [600, 270, 300, 232], box: [650, 277, 895, 462.7], xMin: -24.5, xMax: 520.7, yTitleMid: 619.5, xTitleMid: 480.5, xLabelMid: 475, capX: 751, capTop: 498.7 },
  h: { canvas: [900, 270, 306, 232], box: [951.7, 277, 1198.3, 462.7], xMin: -25.9, xMax: 524.1, yTitleMid: 922.5, xTitleMid: 479, xLabelMid: 475, capX: 1065, capTop: 498.7 }
};

const legendLayouts = {
  a: { left: 174, top: 75, width: 114, height: 111, firstRow: 10.5, rowGap: 17.7, lineX: 2, lineW: 28, textX: 32.5, size: 16.2 },
  e: { left: 160, top: 345, width: 128, height: 115, firstRow: 12.3, rowGap: 17.9, lineX: 5, lineW: 30, textX: 39, size: 17.4 }
};

const sansFamily = "'Liberation Sans', Arial, Helvetica, sans-serif";
const page = document.getElementById('page');

function toPoints(values, grid) {
  if (Array.isArray(values[0])) return values.map(([x, y]) => ({ x, y }));
  return values.map((y, i) => ({ x: grid[i], y }));
}

const framePlugin = {
  id: 'frame',
  afterDraw(chart) {
    const { ctx, chartArea: a } = chart;
    ctx.save();
    ctx.strokeStyle = '#333';
    ctx.lineWidth = 1;
    const l = Math.round(a.left) + 0.5, t = Math.round(a.top) + 0.5;
    const r = Math.round(a.right) - 0.5, b = Math.round(a.bottom) - 0.5;
    ctx.strokeRect(l, t, r - l, b - t);
    ctx.restore();
  }
};

function makePanel(p) {
  const L = layouts[p.id];
  const [cl, ct, cw, ch] = L.canvas;
  const [bl, bt, br, bb] = L.box;
  const canvas = document.createElement('canvas');
  canvas.width = cw;
  canvas.height = ch;
  canvas.style.left = cl + 'px';
  canvas.style.top = ct + 'px';
  page.appendChild(canvas);

  const datasets = p.series.map((s, i) => ({
    label: names[i],
    data: toPoints(s, p.grid),
    borderColor: colors[i],
    borderWidth: 1.1,
    pointRadius: 0,
    tension: 0,
    fill: false,
    order: 6 - i
  }));

  new Chart(canvas, {
    type: 'line',
    data: { datasets },
    options: {
      responsive: false,
      animation: false,
      devicePixelRatio: 1,
      events: [],
      layout: { padding: { left: 0, top: bt - ct, right: cl + cw - br, bottom: 0 } },
      plugins: { legend: { display: false }, tooltip: { enabled: false } },
      scales: {
        x: {
          type: 'linear',
          min: L.xMin,
          max: L.xMax,
          afterBuildTicks: s => { s.ticks = xTicks.map(v => ({ value: v })); },
          afterFit: s => { s.height = ct + ch - bb; s.paddingLeft = 0; s.paddingRight = 0; },
          border: { display: false },
          grid: { drawOnChartArea: false, drawTicks: true, tickLength: 4, color: '#333' },
          ticks: {
            autoSkip: false, maxRotation: 0, color: '#000',
            padding: L.xLabelMid - bb - 4 - 9,
            font: { family: sansFamily, size: 18, weight: 'bold', lineHeight: 1 },
            callback: v => (v === 0 ? '0' : v === 500 ? '500' : '')
          },
          title: {
            display: true, text: 'epochs', color: '#000',
            font: { family: sansFamily, size: 24, lineHeight: 1.2 },
            padding: { top: 0, bottom: ct + ch - L.xTitleMid - 14.4 }
          }
        },
        y: {
          type: 'linear',
          min: 0,
          max: 1,
          afterBuildTicks: s => { s.ticks = yTicks.map(v => ({ value: v })); },
          afterFit: s => { s.width = bl - cl; s.paddingTop = 0; s.paddingBottom = 0; },
          border: { display: false },
          grid: { drawOnChartArea: false, drawTicks: true, tickLength: 4, color: '#333' },
          ticks: {
            autoSkip: false, color: '#000', padding: -3,
            font: { family: sansFamily, size: 18, weight: 'bold', lineHeight: 0.78 },
            callback: v => (v === 1 ? ['', '1.0'] : v === 0 ? ['0.0', ''] : '')
          },
          title: {
            display: true, text: 'accuracy', color: '#000',
            font: { family: sansFamily, size: 24, lineHeight: 1.2 },
            padding: { top: L.yTitleMid - cl - 14.4, bottom: 0 }
          }
        }
      }
    },
    plugins: [framePlugin]
  });

  const cap = document.createElement('div');
  cap.className = 'caption';
  cap.textContent = p.caption;
  cap.style.left = L.capX + 'px';
  cap.style.top = L.capTop + 'px';
  page.appendChild(cap);

  const G = legendLayouts[p.id];
  if (G) {
    const box = document.createElement('div');
    box.className = 'legend';
    Object.assign(box.style, { left: G.left + 'px', top: G.top + 'px', width: G.width + 'px', height: G.height + 'px' });
    names.forEach((name, i) => {
      const cy = G.firstRow + i * G.rowGap;
      const line = document.createElement('div');
      line.className = 'line';
      Object.assign(line.style, { left: G.lineX + 'px', top: Math.round(cy - 1) + 'px', width: G.lineW + 'px', background: colors[i] });
      const txt = document.createElement('div');
      txt.className = 'txt';
      txt.textContent = name;
      Object.assign(txt.style, { left: G.textX + 'px', top: (cy - G.size / 2) + 'px', fontSize: G.size + 'px', lineHeight: G.size + 'px' });
      box.appendChild(line);
      box.appendChild(txt);
    });
    page.appendChild(box);
  }
}

panels.forEach(makePanel);
</script>
</body>
</html>
